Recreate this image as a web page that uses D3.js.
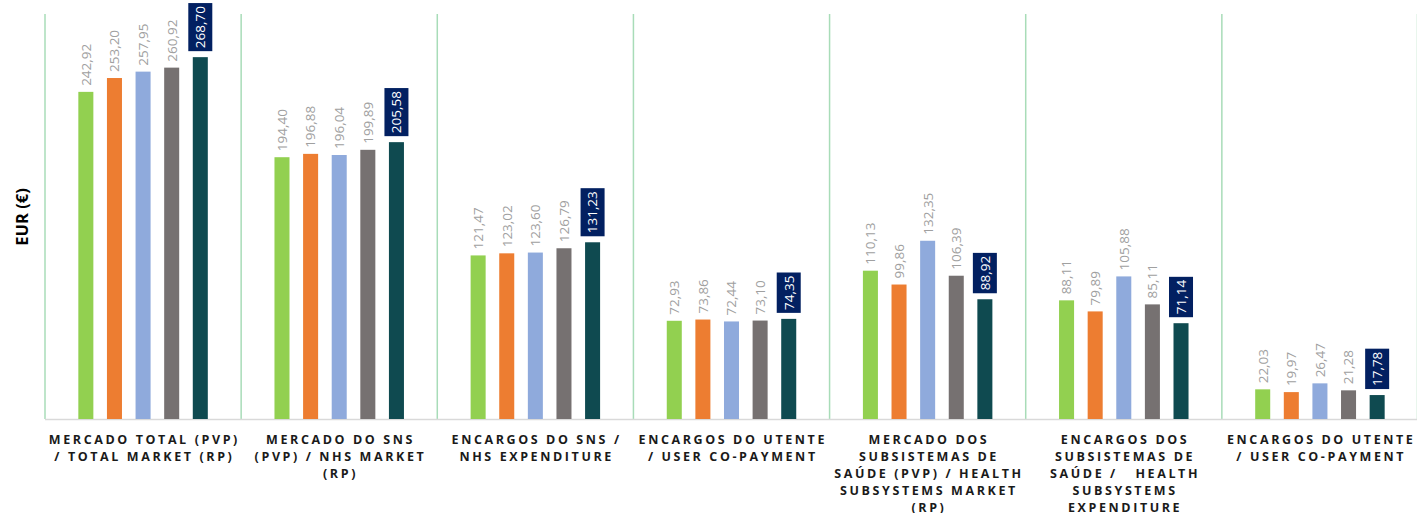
<!DOCTYPE html>
<html lang="en">
<head>
<meta charset="UTF-8">
<title>Mercado e encargos</title>
<script src="https://d3js.org/d3.v7.min.js"></script>
<style>
    body { margin: 0; background: #ffffff; }
    svg { display: block; font-family: "Open Sans", "Noto Sans", sans-serif; }
    .cat { white-space: pre; }
</style>
</head>
<body>
<div id="chart"></div>
<script>
// categories (one label per group, already split into lines as in the picture)
const categories = [
    ["MERCADO TOTAL (PVP)", "/ TOTAL MARKET (RP)"],
    ["MERCADO DO SNS", "(PVP) / NHS MARKET", "(RP)"],
    ["ENCARGOS DO SNS /", "NHS EXPENDITURE"],
    ["ENCARGOS DO UTENTE", "/ USER CO-PAYMENT"],
    ["MERCADO DOS", "SUBSISTEMAS DE", "SAÚDE (PVP) / HEALTH", "SUBSYSTEMS MARKET", "(RP)"],
    ["ENCARGOS DOS", "SUBSISTEMAS DE", "SAÚDE /   HEALTH", "SUBSYSTEMS", "EXPENDITURE"],
    ["ENCARGOS DO UTENTE", "/ USER CO-PAYMENT"]
];
const series = ["s1", "s2", "s3", "s4", "s5"];
const colors = ["#92d050", "#ed7d31", "#8faadc", "#767171", "#0f4a50"];

// values per series, one entry per category
const s1 = [242.92, 194.40, 121.47, 72.93, 110.13, 88.11, 22.03];
const s2 = [253.20, 196.88, 123.02, 73.86, 99.86, 79.89, 19.97];
const s3 = [257.95, 196.04, 123.60, 72.44, 132.35, 105.88, 26.47];
const s4 = [260.92, 199.89, 126.79, 73.10, 106.39, 85.11, 21.28];
const s5 = [268.70, 205.58, 131.23, 74.35, 88.92, 71.14, 17.78];
const values = [s1, s2, s3, s4, s5];

const W = 1417, H = 513;
const plotLeft = 45, plotRight = 1418, plotTop = 15, base = 419;

const svg = d3.select("#chart").append("svg")
    .attr("width", W).attr("height", H);

const catIdx = categories.map((d, i) => i);
const x0 = d3.scaleBand().domain(catIdx).range([plotLeft, plotRight]).paddingInner(0).paddingOuter(0);
const x1 = d3.scaleBand().domain(series).range([0, x0.bandwidth()])
    .paddingInner(0.475).paddingOuter(1.165);
const y = d3.scaleLinear().domain([0, 300]).range([base, plotTop]);

// group separators
const seps = catIdx.concat([catIdx.length]);
svg.append("g").selectAll("line")
    .data(seps)
    .enter().append("line")
    .attr("x1", d => d < catIdx.length ? x0(d) : plotRight - 0.5)
    .attr("x2", d => d < catIdx.length ? x0(d) : plotRight - 0.5)
    .attr("y1", y(300) - 1)
    .attr("y2", base)
    .attr("stroke", "#a8dcb8")
    .attr("stroke-width", 1.5);

// baseline
svg.append("line")
    .attr("x1", plotLeft).attr("x2", W)
    .attr("y1", base + 0.5).attr("y2", base + 0.5)
    .attr("stroke", "#d9d9d9").attr("stroke-width", 1.5);

// bars + labels
const groups = svg.append("g").selectAll("g")
    .data(catIdx)
    .enter().append("g")
    .attr("transform", d => `translate(${x0(d)},0)`);

const fmt = v => v.toFixed(2).replace(".", ",");

series.forEach((s, si) => {
    groups.append("rect")
        .attr("x", x1(s))
        .attr("width", x1.bandwidth())
        .attr("y", c => y(values[si][c]))
        .attr("height", c => base - y(values[si][c]))
        .attr("fill", colors[si]);

    const cx = x1(s) + x1.bandwidth() / 2;
    const lbl = groups.append("g")
        .attr("transform", c => `translate(${cx},${y(values[si][c]) - 6}) rotate(-90)`);

    if (si === series.length - 1) {
        lbl.each(function(c) {
            const g = d3.select(this);
            const t = g.append("text")
                .attr("x", 3)
                .attr("dy", "0.36em")
                .attr("font-size", 13.5)
                .attr("fill", "#ffffff")
                .text(fmt(values[si][c]));
            const len = t.node().getComputedTextLength();
            g.insert("rect", "text")
                .attr("x", 0)
                .attr("y", -12)
                .attr("width", len + 6)
                .attr("height", 24)
                .attr("fill", "#022061");
        });
    } else {
        lbl.append("text")
            .attr("x", 0)
            .attr("dy", "0.36em")
            .attr("font-size", 13.5)
            .attr("fill", "#a0a0a0")
            .text(c => fmt(values[si][c]));
    }
});

// category labels
const catLabels = svg.append("g").selectAll("text")
    .data(catIdx)
    .enter().append("text")
    .attr("class", "cat")
    .attr("text-anchor", "middle")
    .attr("font-size", 12.5)
    .attr("font-weight", "bold")
    .attr("letter-spacing", "2.6px")
    .attr("fill", "#1a1a1a");

catLabels.selectAll("tspan")
    .data(c => categories[c].map(line => ({ c, line })))
    .enter().append("tspan")
    .attr("x", d => x0(d.c) + x0.bandwidth() / 2 + 1.3)
    .attr("y", (d, i) => 444 + i * 17)
    .text(d => d.line);

// y axis title
svg.append("text")
    .attr("transform", `translate(28,${(plotTop + base) / 2}) rotate(-90)`)
    .attr("text-anchor", "middle")
    .attr("font-size", 16.5)
    .attr("font-weight", "bold")
    .attr("fill", "#000")
    .text("EUR (€)");
</script>
</body>
</html>
